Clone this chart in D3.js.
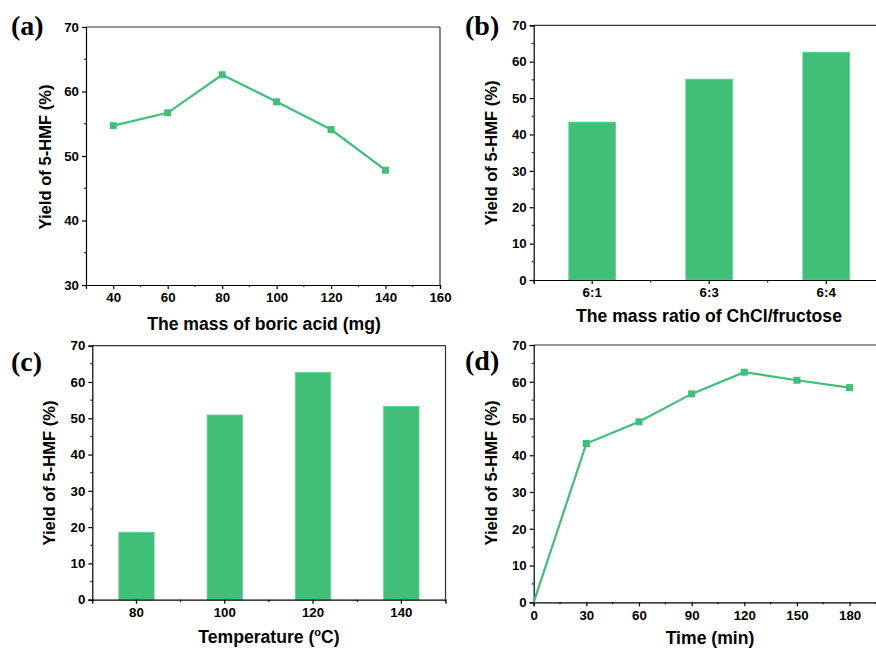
<!DOCTYPE html>
<html><head><meta charset="utf-8">
<script src="https://cdn.jsdelivr.net/npm/d3@7"></script>
<style>
html,body{margin:0;padding:0;background:#fff;}
svg{display:block;font-family:"Liberation Sans",Arial,sans-serif;}
</style></head>
<body><svg id="c" width="876" height="649"></svg>
<script>
// ---- data ----
const boricMass = [40, 60, 80, 100, 120, 140];
const boricYield = [54.7, 56.7, 62.6, 58.4, 54.1, 47.8];

const ratioCats = ["6:1", "6:3", "6:4"];
const ratioYield = [43.4, 55.2, 62.6];

const tempCats = ["80", "100", "120", "140"];
const tempYield = [18.6, 50.9, 62.6, 53.3];

const timeMin = [0, 30, 60, 90, 120, 150, 180];
const timeYield = [0, 43.2, 49.1, 56.7, 62.6, 60.4, 58.4];

const yTitle = "Yield of 5-HMF (%)";
const GREEN = "#40bf78";
const TICKFS = 13.3;

const svg = d3.select("#c");

function frame(g, x0, x1, y0, y1) {
  g.append("line").attr("x1", x0).attr("x2", x1).attr("y1", y0).attr("y2", y0)
    .attr("stroke", "#333").attr("stroke-width", 1.2);
  g.append("line").attr("x1", x1).attr("x2", x1).attr("y1", y0).attr("y2", y1)
    .attr("stroke", "#333").attr("stroke-width", 1.2);
}

function yAxis(g, y, x0, domain, major, minor) {
  const ax = d3.axisLeft(y).tickValues(d3.range(domain[0], domain[1] + 0.001, major))
    .tickSize(4).tickPadding(3);
  const a = g.append("g").attr("transform", `translate(${x0},0)`).call(ax);
  a.select(".domain").attr("stroke", "#000").attr("stroke-width", 1.2);
  a.selectAll(".tick line").attr("stroke", "#000").attr("stroke-width", 1.2);
  a.selectAll("text").attr("font-size", TICKFS).attr("font-weight", "bold").attr("fill", "#000");
  const mins = d3.range(domain[0] + minor, domain[1], major);
  g.selectAll(null).data(mins).enter().append("line")
    .attr("x1", x0 - 2).attr("x2", x0).attr("y1", d => y(d)).attr("y2", d => y(d))
    .attr("stroke", "#000").attr("stroke-width", 1);
}

function titles(g, label, lx, ly, ytx, yty, xtitle, xtx, xty) {
  g.append("text").attr("x", lx).attr("y", ly).text(label)
    .attr("font-family", "'Liberation Serif','Times New Roman',serif")
    .attr("font-weight", "bold").attr("font-size", 28);
  g.append("text").attr("transform", `translate(${ytx},${yty}) rotate(-90)`)
    .attr("text-anchor", "middle").attr("font-weight", "bold").attr("font-size", 16.6)
    .text(yTitle);
  const t = g.append("text").attr("x", xtx).attr("y", xty).attr("text-anchor", "middle")
    .attr("font-weight", "bold").attr("font-size", 17.6);
  if (Array.isArray(xtitle)) {
    t.append("tspan").text(xtitle[0]);
    t.append("tspan").text(xtitle[1]).attr("font-size", 11).attr("dy", -7);
    t.append("tspan").text(xtitle[2]).attr("dy", 7);
  } else t.text(xtitle);
}

// ---- line panel ----
function linePanel(opt) {
  const g = svg.append("g");
  const x = d3.scaleLinear().domain(opt.xDomain).range([opt.x0, opt.x1]);
  const y = d3.scaleLinear().domain(opt.yDomain).range([opt.y1, opt.y0]);
  frame(g, opt.x0, opt.x1, opt.y0, opt.y1);
  const ax = d3.axisBottom(x).tickValues(opt.xTicks).tickSize(4).tickPadding(4);
  const a = g.append("g").attr("transform", `translate(0,${opt.y1})`).call(ax);
  a.select(".domain").attr("stroke", "#000").attr("stroke-width", 1.2);
  a.selectAll(".tick line").attr("stroke", "#000").attr("stroke-width", 1.2);
  a.selectAll("text").attr("font-size", TICKFS).attr("font-weight", "bold").attr("fill", "#000");
  g.selectAll(null).data(opt.xMinor).enter().append("line")
    .attr("x1", d => x(d)).attr("x2", d => x(d)).attr("y1", opt.y1).attr("y2", opt.y1 + 2)
    .attr("stroke", "#000").attr("stroke-width", 1);
  yAxis(g, y, opt.x0, opt.yDomain, opt.yMajor, opt.yMajor / 2);
  const pts = opt.xs.map((v, i) => [v, opt.ys[i]]);
  g.append("path").datum(pts)
    .attr("d", d3.line().x(d => x(d[0])).y(d => y(d[1])))
    .attr("fill", "none").attr("stroke", GREEN).attr("stroke-width", 2.2);
  g.selectAll(null).data(pts.filter(d => d[1] > opt.yDomain[0])).enter().append("rect")
    .attr("x", d => x(d[0]) - 3.5).attr("y", d => y(d[1]) - 3.5)
    .attr("width", 7).attr("height", 7).attr("fill", GREEN);
  return g;
}

// ---- bar panel ----
function barPanel(opt) {
  const g = svg.append("g");
  const x = d3.scaleBand().domain(opt.cats).range([opt.x0, opt.x1])
    .paddingInner(0.6).paddingOuter(0.3);
  const y = d3.scaleLinear().domain(opt.yDomain).range([opt.y1, opt.y0]);
  frame(g, opt.x0, opt.x1, opt.y0, opt.y1);
  g.selectAll(null).data(opt.cats).enter().append("rect")
    .attr("x", d => x(d)).attr("width", x.bandwidth())
    .attr("y", (d, i) => y(opt.vals[i])).attr("height", (d, i) => y(0) - y(opt.vals[i]))
    .attr("fill", GREEN).attr("stroke", "#5fd392").attr("stroke-width", 0.8);
  const ax = d3.axisBottom(x).tickSize(4).tickPadding(4);
  const a = g.append("g").attr("transform", `translate(0,${opt.y1})`).call(ax);
  a.select(".domain").attr("stroke", "#000").attr("stroke-width", 1.2);
  a.selectAll(".tick line").attr("stroke", "#000").attr("stroke-width", 1.2);
  a.selectAll("text").attr("font-size", TICKFS).attr("font-weight", "bold").attr("fill", "#000");
  const bnds = d3.range(0, opt.cats.length + 1).map(i => opt.x0 + i * x.step());
  g.selectAll(null).data(bnds).enter().append("line")
    .attr("x1", d => d).attr("x2", d => d).attr("y1", opt.y1).attr("y2", opt.y1 + 2.5)
    .attr("stroke", "#000").attr("stroke-width", 1);
  yAxis(g, y, opt.x0, opt.yDomain, opt.yMajor, opt.yMajor / 2);
  return g;
}

// (a)
const ga = linePanel({
  x0: 86, x1: 440, y0: 27, y1: 285,
  xDomain: [30, 160], yDomain: [30, 70], yMajor: 10,
  xTicks: [40, 60, 80, 100, 120, 140, 160], xMinor: [30, 50, 70, 90, 110, 130, 150],
  xs: boricMass, ys: boricYield
});
titles(ga, "(a)", 11, 35, 51, 157, "The mass of boric acid (mg)", 264, 330);

// (b)
const gb = barPanel({
  x0: 533.7, x1: 884.7, y0: 25.3, y1: 280,
  cats: ratioCats, vals: ratioYield, yDomain: [0, 70], yMajor: 10
});
titles(gb, "(b)", 465, 35, 497, 153, "The mass ratio of ChCl/fructose", 709, 322);

// (c)
const gc = barPanel({
  x0: 92.3, x1: 445.5, y0: 345.7, y1: 599.7,
  cats: tempCats, vals: tempYield, yDomain: [0, 70], yMajor: 10
});
titles(gc, "(c)", 11, 371, 55, 473, ["Temperature (", "o", "C)"], 269, 643);

// (d)
const gd = linePanel({
  x0: 533.7, x1: 884.7, y0: 345, y1: 602.3,
  xDomain: [0, 200], yDomain: [0, 70], yMajor: 10,
  xTicks: [0, 30, 60, 90, 120, 150, 180], xMinor: [15, 45, 75, 105, 135, 165, 195],
  xs: timeMin, ys: timeYield
});
titles(gd, "(d)", 465, 370, 497, 473, "Time (min)", 710, 644);
</script></body></html>
